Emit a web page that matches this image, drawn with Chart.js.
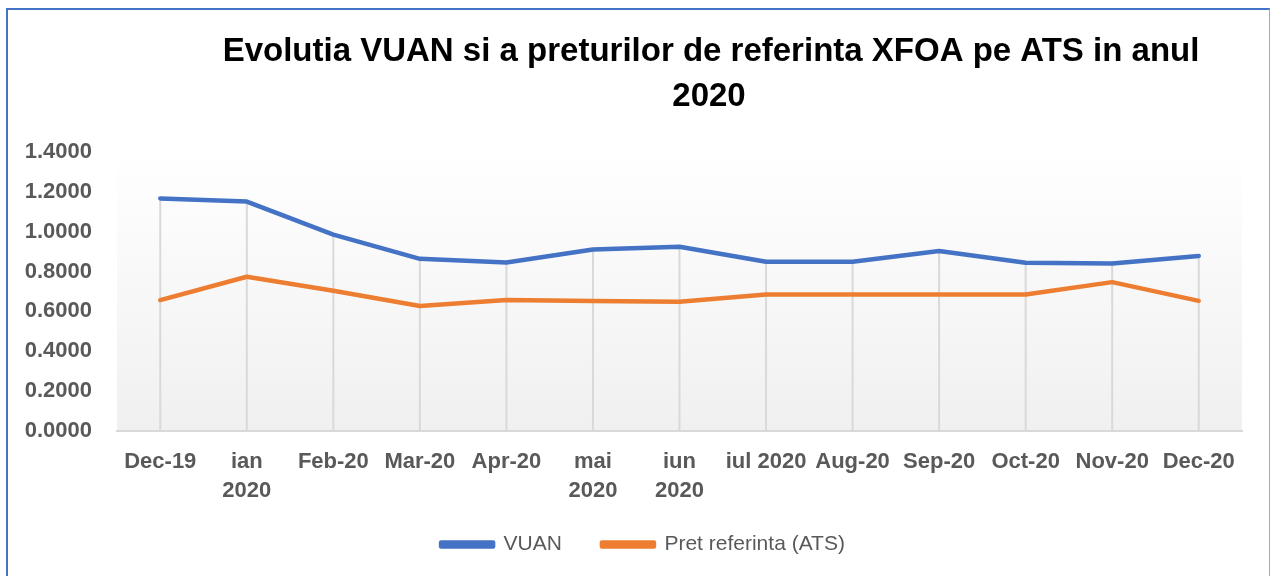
<!DOCTYPE html>
<html>
<head>
<meta charset="utf-8">
<script src="https://cdn.jsdelivr.net/npm/chart.js@4"></script>
<style>
  html, body { margin: 0; padding: 0; background: #ffffff; }
  #wrap { position: relative; width: 1271px; height: 576px; overflow: hidden; }
  #c { position: absolute; left: 0; top: 0; }
  #frame { position: absolute; left: 6px; top: 8px; width: 1261px; height: 620px;
           border-left: 2px solid #4472C4; border-top: 2px solid #4472C4; border-right: 1px solid #8FAADC;
           pointer-events: none; }
</style>
</head>
<body>
<div id="wrap">
  <canvas id="c" width="1271" height="576"></canvas>
  <div id="frame"></div>
</div>
<script>
const categories = ['Dec-19', ['ian', '2020'], 'Feb-20', 'Mar-20', 'Apr-20', ['mai', '2020'], ['iun', '2020'], 'iul 2020', 'Aug-20', 'Sep-20', 'Oct-20', 'Nov-20', 'Dec-20'];
const vuan = [1.167, 1.151, 0.985, 0.864, 0.846, 0.911, 0.925, 0.849, 0.849, 0.903, 0.844, 0.841, 0.878];
const pretReferinta = [0.657, 0.774, 0.704, 0.627, 0.657, 0.652, 0.648, 0.685, 0.685, 0.685, 0.685, 0.747, 0.653];
const titleLines = ['Evolutia VUAN si a preturilor de referinta XFOA pe ATS in anul', '2020'];
const seriesNames = ['VUAN', 'Pret referinta (ATS)'];
const yTicks = { min: 0, max: 1.4, step: 0.2 };

const FONT = '"Liberation Sans", Arial, sans-serif';
const GREY = '#595959';

const bgPlugin = {
  id: 'plotBg',
  beforeDraw(chart) {
    const { ctx, chartArea: a } = chart;
    const g = ctx.createLinearGradient(0, a.top, 0, a.bottom);
    g.addColorStop(0, '#ffffff');
    g.addColorStop(1, '#f0f0f0');
    ctx.save();
    ctx.fillStyle = g;
    ctx.fillRect(a.left, a.top, a.right - a.left, a.bottom - a.top);
    ctx.restore();
  }
};

const dropLines = {
  id: 'dropLines',
  beforeDatasetsDraw(chart) {
    const { ctx, chartArea: a } = chart;
    const metas = chart.data.datasets.map((d, i) => chart.getDatasetMeta(i));
    ctx.save();
    ctx.strokeStyle = '#d9d9d9';
    ctx.lineWidth = 2;
    metas[0].data.forEach((pt, i) => {
      let top = Infinity;
      metas.forEach(m => { if (m.data[i]) top = Math.min(top, m.data[i].y); });
      ctx.beginPath();
      ctx.moveTo(pt.x, top);
      ctx.lineTo(pt.x, a.bottom);
      ctx.stroke();
    });
    ctx.restore();
  }
};

const titlePlugin = {
  id: 'customTitle',
  afterDraw(chart) {
    const ctx = chart.ctx;
    ctx.save();
    ctx.font = 'bold 33px ' + FONT;
    ctx.fillStyle = '#000000';
    ctx.textAlign = 'center';
    ctx.textBaseline = 'middle';
    ctx.fillText(titleLines[0], 711, 52);
    ctx.fillText(titleLines[1], 709, 97);
    ctx.restore();
  }
};

// keep the legend compact vertically and place it where the reference has it
const legendPlace = {
  id: 'legendPlace',
  beforeLayout(chart) {
    const lg = chart.legend;
    if (lg && !lg._compact) {
      const orig = lg.fit.bind(lg);
      lg.fit = function () { orig(); this.height = 60; };
      lg._compact = true;
    }
  },
  afterLayout(chart) {
    const lg = chart.legend;
    if (lg) { lg.top -= 13; lg.bottom -= 13; }
  }
};

new Chart(document.getElementById('c'), {
  type: 'line',
  data: {
    labels: categories,
    datasets: [
      { label: seriesNames[0], data: vuan, borderColor: '#4472C4', backgroundColor: '#4472C4',
        borderWidth: 4.5, pointRadius: 0, tension: 0, borderCapStyle: 'round', borderJoinStyle: 'round' },
      { label: seriesNames[1], data: pretReferinta, borderColor: '#ED7D31', backgroundColor: '#ED7D31',
        borderWidth: 4.5, pointRadius: 0, tension: 0, borderCapStyle: 'round', borderJoinStyle: 'round' }
    ]
  },
  options: {
    responsive: false,
    animation: false,
    layout: { padding: { top: 152, right: 0, left: 15, bottom: 9 } },
    plugins: {
      title: { display: false },
      tooltip: { enabled: false },
      legend: {
        position: 'bottom',
        labels: {
          boxWidth: 52, boxHeight: 4, padding: 40,
          color: GREY,
          font: { family: FONT, size: 21 }
        }
      }
    },
    scales: {
      x: {
        offset: true,
        grid: { display: false, drawTicks: false },
        border: { display: true, color: '#d9d9d9', width: 2 },
        ticks: {
          autoSkip: false, maxRotation: 0, minRotation: 0, padding: 16,
          color: GREY,
          font: { family: FONT, size: 22, weight: 'bold', lineHeight: 1.32 }
        },
        afterFit(scale) { scale.height = 76; }
      },
      y: {
        min: yTicks.min, max: yTicks.max,
        grid: { display: false, drawTicks: false },
        border: { display: false },
        ticks: {
          stepSize: yTicks.step, padding: 25,
          color: GREY,
          font: { family: FONT, size: 22, weight: 'bold' },
          callback: v => Number(v).toFixed(4)
        },
        afterFit(scale) { scale.width = 102; }
      },
      yRight: {
        position: 'right',
        min: yTicks.min, max: yTicks.max,
        grid: { display: false, drawTicks: false },
        border: { display: false },
        ticks: { display: false },
        afterFit(scale) { scale.width = 29; }
      }
    }
  },
  plugins: [bgPlugin, dropLines, titlePlugin, legendPlace]
});
</script>
</body>
</html>
